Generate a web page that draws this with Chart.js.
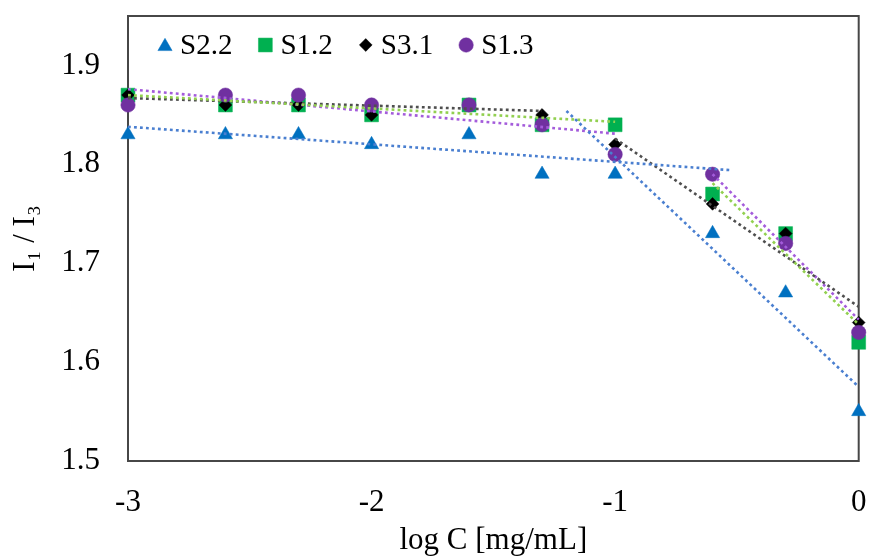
<!DOCTYPE html>
<html><head><meta charset="utf-8">
<script src="https://cdn.jsdelivr.net/npm/chart.js@4.4.1/dist/chart.umd.min.js"></script>
<style>html,body{margin:0;padding:0;background:#fff;} #wrap{width:869px;height:559px;position:relative;}</style>
</head><body><div id="wrap"><canvas id="c"></canvas></div>
<script>
// ---- data ----
const logC = [-3, -2.6, -2.3, -2, -1.6, -1.3, -1, -0.6, -0.3, 0];
const S22 = [1.83, 1.83, 1.83, 1.82, 1.83, 1.79, 1.79, 1.73, 1.67, 1.55];
const S12 = [1.87, 1.86, 1.86, 1.85, 1.86, 1.84, 1.84, 1.77, 1.73, 1.62];
const S31 = [1.87, 1.86, 1.86, 1.85, 1.86, 1.85, 1.82, 1.76, 1.73, 1.64];
const S13 = [1.86, 1.87, 1.87, 1.86, 1.86, 1.84, 1.81, 1.79, 1.72, 1.63];
const seriesNames = ['S2.2', 'S1.2', 'S3.1', 'S1.3'];
// trend line end points [x, y]
const trendS22a = [[-3, 1.838], [-0.52, 1.794]];
const trendS22b = [[-1.2, 1.854], [0, 1.575]];
const trendS12a = [[-3, 1.870], [-1, 1.843]];
const trendS12b = [[-0.6, 1.781], [0, 1.638]];
const trendS31a = [[-3, 1.867], [-1.3, 1.854]];
const trendS31b = [[-1, 1.826], [0, 1.656]];
const trendS13a = [[-3, 1.876], [-1, 1.831]];
const trendS13b = [[-0.6, 1.790], [0, 1.643]];
const xTicks = [-3, -2, -1, 0];
const yTicks = [1.5, 1.6, 1.7, 1.8, 1.9];
const xTitle = 'log C [mg/mL]';
const yTitle = 'I\u2081 / I\u2083';

// ---- build ----
const FONT = '"Liberation Serif", "Times New Roman", serif';
Chart.defaults.font.family = FONT;
Chart.defaults.color = '#000';

const pts = (ys) => logC.map((x, i) => ({x: x, y: ys[i]}));
const tl = (arr) => arr.map(p => ({x: p[0], y: p[1]}));

function scatterDs(label, ys, style, color, r, order) {
  return {type: 'scatter', label: label, data: pts(ys), pointStyle: style,
    backgroundColor: color, borderColor: color, pointBorderWidth: 0.5,
    pointRadius: r, pointHoverRadius: r, showLine: false, clip: false, order: order};
}
function trendDs(name, arr, color) {
  return {type: 'line', label: name + ' trend', data: tl(arr), borderColor: color,
    borderWidth: 2.6, borderDash: [2.8, 3.2], pointRadius: 0, pointHoverRadius: 0,
    fill: false, tension: 0, clip: false, order: 0};
}

const datasets = [
  scatterDs('S2.2', S22, 'triangle', '#0070C0', 8.2, 4),
  scatterDs('S1.2', S12, 'rect', '#00B050', 9.8, 3),
  scatterDs('S3.1', S31, 'rectRot', '#000000', 6.4, 2),
  scatterDs('S1.3', S13, 'circle', '#7030A0', 7.2, 1),
  trendDs('S2.2', trendS22a, '#4A7FD0'),
  trendDs('S2.2', trendS22b, '#4A7FD0'),
  trendDs('S1.2', trendS12a, '#92D050'),
  trendDs('S1.2', trendS12b, '#92D050'),
  trendDs('S3.1', trendS31a, '#4F4F4F'),
  trendDs('S3.1', trendS31b, '#4F4F4F'),
  trendDs('S1.3', trendS13a, '#A45CDB'),
  trendDs('S1.3', trendS13b, '#A45CDB')
];

const framePlugin = {
  id: 'frame',
  beforeDatasetsDraw(chart) {
    const a = chart.chartArea, ctx = chart.ctx;
    ctx.save();
    ctx.strokeStyle = '#474747';
    ctx.lineWidth = 2;
    ctx.strokeRect(a.left, a.top, a.right - a.left, a.bottom - a.top);
    ctx.restore();
  }
};

const legendPlugin = {
  id: 'insideLegend',
  afterDraw(chart) {
    const ctx = chart.ctx, a = chart.chartArea;
    ctx.save();
    ctx.font = '29px ' + FONT;
    ctx.textBaseline = 'middle';
    ctx.textAlign = 'left';
    let x = a.left + 37;
    const y = a.top + 29;
    seriesNames.forEach((name) => {
      const ds = chart.data.datasets.find(d => d.label === name);
      const r = ds.pointRadius;
      ctx.fillStyle = ds.backgroundColor;
      ctx.strokeStyle = ds.borderColor;
      ctx.lineWidth = 0.5;
      const yy = ds.pointStyle === 'triangle' ? y + 1.5 : y;
      Chart.helpers.drawPoint(ctx, {pointStyle: ds.pointStyle, radius: r, rotation: 0, borderWidth: 0.5}, x, yy);
      ctx.fillStyle = '#000';
      ctx.fillText(name, x + 15, y + 1);
      x += 15 + ctx.measureText(name).width + 33;
    });
    ctx.restore();
  }
};

function zeroPad(s) { s.paddingTop = 0; s.paddingBottom = 0; s.paddingLeft = 0; s.paddingRight = 0; }

new Chart(document.getElementById('c'), {
  type: 'scatter',
  data: {datasets: datasets},
  plugins: [framePlugin, legendPlugin],
  options: {
    responsive: true,
    maintainAspectRatio: false,
    animation: false,
    layout: {padding: {left: 0, top: 16, right: 10, bottom: 0}},
    plugins: {legend: {display: false}, tooltip: {enabled: false}},
    scales: {
      x: {
        type: 'linear', min: -3, max: 0,
        grid: {display: false, drawTicks: false},
        border: {display: false},
        afterBuildTicks: (s) => { s.ticks = xTicks.map(v => ({value: v})); },
        afterFit: (s) => { s.height = 98; zeroPad(s); },
        ticks: {font: {size: 31, family: FONT}, color: '#000', padding: 23,
          callback: (v) => String(v)},
        title: {display: true, text: xTitle, font: {size: 31, family: FONT}, color: '#000',
          padding: {top: 0, bottom: 0}}
      },
      y: {
        type: 'linear', min: 1.5, max: 1.95,
        grid: {display: false, drawTicks: false},
        border: {display: false},
        afterBuildTicks: (s) => { s.ticks = yTicks.map(v => ({value: v})); },
        afterFit: (s) => { s.width = 128; zeroPad(s); },
        ticks: {font: {size: 31, family: FONT}, color: '#000', padding: 28,
          callback: (v) => Number(v).toFixed(1)},
        title: {display: true, text: yTitle, font: {size: 31, family: FONT}, color: '#000',
          padding: {top: 7, bottom: 0}}
      }
    }
  }
});
</script>
</body></html>
